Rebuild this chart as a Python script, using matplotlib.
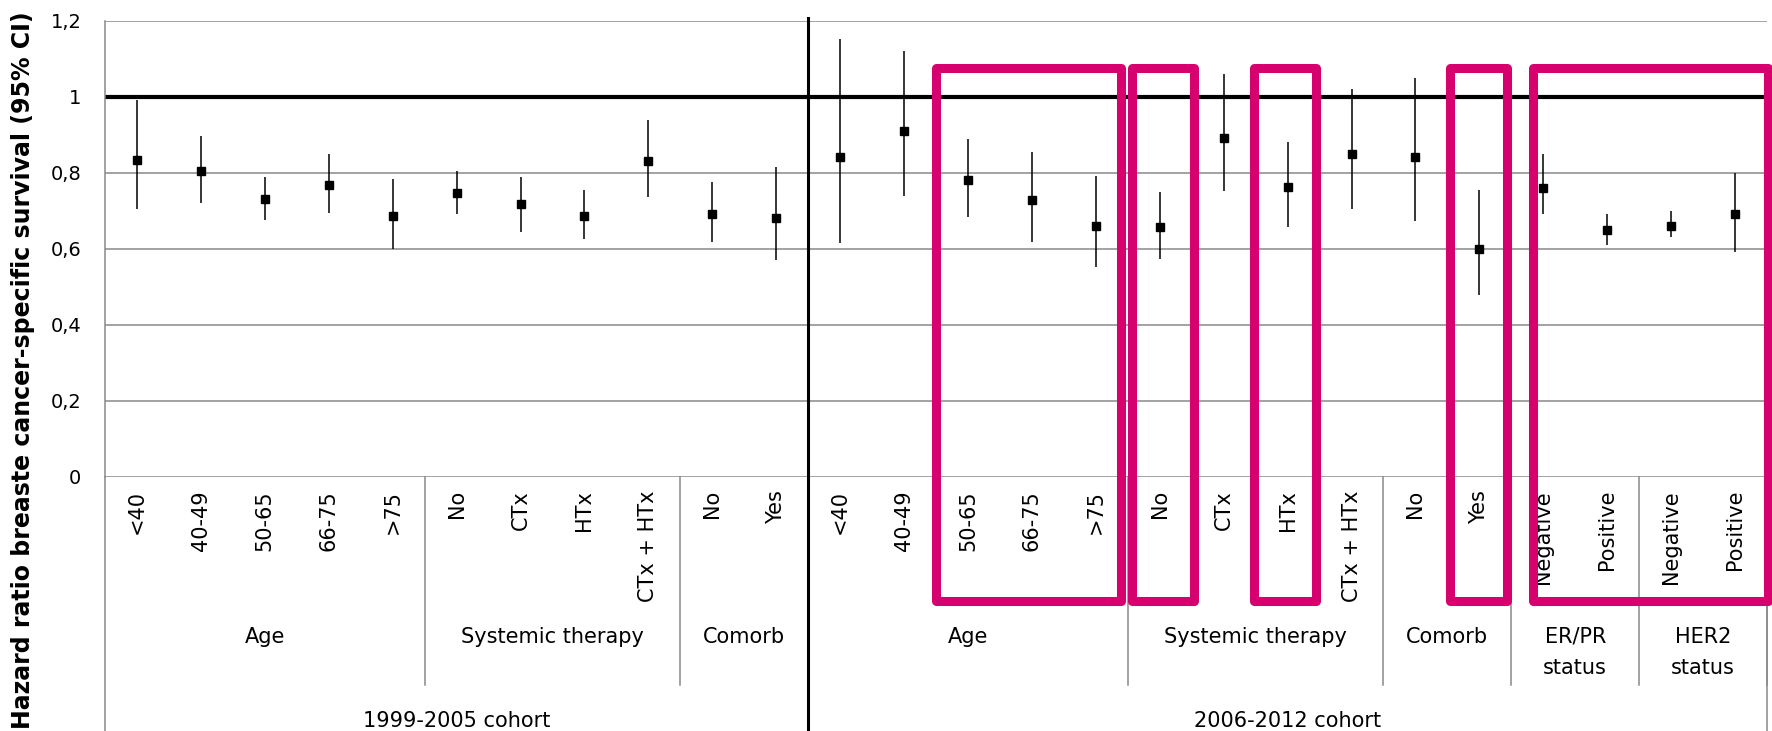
import numpy as np
import matplotlib
matplotlib.use('Agg')
import matplotlib.pyplot as plt
from matplotlib.transforms import blended_transform_factory
from matplotlib.patches import Rectangle

# categories (lowest level of the axis)
items = ['<40', '40-49', '50-65', '66-75', '>75',
         'No', 'CTx', 'HTx', 'CTx + HTx',
         'No', 'Yes',
         '<40', '40-49', '50-65', '66-75', '>75',
         'No', 'CTx', 'HTx', 'CTx + HTx',
         'No', 'Yes',
         'Negative', 'Positive',
         'Negative', 'Positive']
group_names = ['Age', 'Systemic therapy', 'Comorb',
               'Age', 'Systemic therapy', 'Comorb', 'ER/PR\nstatus', 'HER2\nstatus']
group_sizes = [5, 4, 2, 5, 4, 2, 2, 2]
cohort_names = ['1999-2005 cohort', '2006-2012 cohort']
cohort_sizes = [11, 15]

# hazard ratios with 95% CI
hr = [0.833, 0.805, 0.732, 0.768, 0.686,
      0.747, 0.718, 0.686, 0.832,
      0.692, 0.682,
      0.842, 0.911, 0.782, 0.729, 0.661,
      0.658, 0.892, 0.763, 0.850,
      0.842, 0.600,
      0.761, 0.650,
      0.661, 0.692]
ci_low = [0.704, 0.719, 0.676, 0.695, 0.600,
          0.690, 0.643, 0.625, 0.737,
          0.618, 0.571,
          0.616, 0.739, 0.684, 0.618, 0.552,
          0.573, 0.752, 0.657, 0.705,
          0.673, 0.477,
          0.690, 0.611,
          0.630, 0.591]
ci_high = [0.991, 0.897, 0.789, 0.848, 0.783,
           0.804, 0.789, 0.754, 0.938,
           0.775, 0.816,
           1.151, 1.119, 0.889, 0.854, 0.791,
           0.750, 1.059, 0.882, 1.019,
           1.049, 0.755,
           0.850, 0.690,
           0.700, 0.800]

yticks = [0, 0.2, 0.4, 0.6, 0.8, 1.0, 1.2]
ytick_labels = ['0', '0,2', '0,4', '0,6', '0,8', '1', '1,2']

# highlighted item ranges (first, last) and the hand-drawn insets
boxes = [(13, 15), (16, 16), (18, 18), (21, 21), (22, 25)]
box_inset = [(0.0, 0.11), (0.07, -0.04), (-0.02, 0.06), (0.04, 0.07), (0.34, -0.02)]

W, H = 1772, 731
def fy(px):
    return 1 - px / H

fig = plt.figure(figsize=(W / 100, H / 100), dpi=100)
ax = fig.add_axes([105 / W, fy(476.7), (1767 - 105) / W, (476.7 - 20.7) / H])
tr = blended_transform_factory(ax.transData, fig.transFigure)

n = len(items)
x = np.arange(n)
ax.set_xlim(-0.5, n - 0.5)
ax.set_ylim(0, 1.2)

grey = '#898989'
ax.set_yticks(yticks)
ax.set_yticklabels(ytick_labels, fontsize=14)
ax.set_xticks([])
ax.tick_params(axis='y', length=0, pad=17)
ax.yaxis.grid(True, color=grey, lw=1.1)
ax.set_axisbelow(True)
for s in ['top', 'right', 'bottom']:
    ax.spines[s].set_visible(False)
ax.spines['left'].set_color(grey)
ax.spines['left'].set_linewidth(1.1)

# reference line at HR = 1
ax.axhline(1, color='black', lw=3, zorder=2)

# confidence intervals and point estimates
ax.vlines(x, ci_low, ci_high, color='black', lw=1.1, zorder=3)
ax.plot(x, hr, 's', color='black', ms=5.8, zorder=4)

# item labels
for i, lab in enumerate(items):
    ax.text(i, fy(490), lab, transform=tr, rotation=90, ha='center', va='top',
            fontsize=15, clip_on=False)

# group labels and separators
start = 0
for name, size in zip(group_names, group_sizes):
    cx = start + size / 2 - 0.5
    for k, line in enumerate(name.split('\n')):
        ax.text(cx, fy(637 + 31 * k), line, transform=tr, ha='center', va='center',
                fontsize=15)
    start += size
    ax.plot([start - 0.5, start - 0.5], [fy(476.7), fy(685)], color=grey, lw=1.1,
            transform=tr, clip_on=False)

# cohort labels and borders
ax.plot([-0.5, -0.5], [fy(476.7), 0], color=grey, lw=1.1, transform=tr, clip_on=False)
ax.plot([n - 0.5, n - 0.5], [fy(476.7), 0], color=grey, lw=1.1, transform=tr, clip_on=False)
start = 0
for name, size in zip(cohort_names, cohort_sizes):
    cx = start + size / 2 - 0.5
    ax.text(cx, fy(721), name, transform=tr, ha='center', va='center', fontsize=15)
    start += size
ax.plot([cohort_sizes[0] - 0.5] * 2, [fy(18), 0], color='black', lw=2.2,
        transform=tr, clip_on=False, zorder=5)

# highlight boxes
y_top, y_bot = 1.076, -0.327
for (i0, i1), (li, ri) in zip(boxes, box_inset):
    x0 = i0 - 0.5 + li
    x1 = i1 + 0.5 - ri
    ax.add_patch(Rectangle((x0, y_bot), x1 - x0, y_top - y_bot, fill=False,
                           edgecolor='#d6006f', lw=6.5, joinstyle='round',
                           clip_on=False, zorder=10))

fig.text(23 / W, fy(370), 'Hazard ratio breaste cancer-specific survival (95% CI)',
         rotation=90, ha='center', va='center', fontsize=17, fontweight='bold')

fig.savefig('out.png', dpi=100)
